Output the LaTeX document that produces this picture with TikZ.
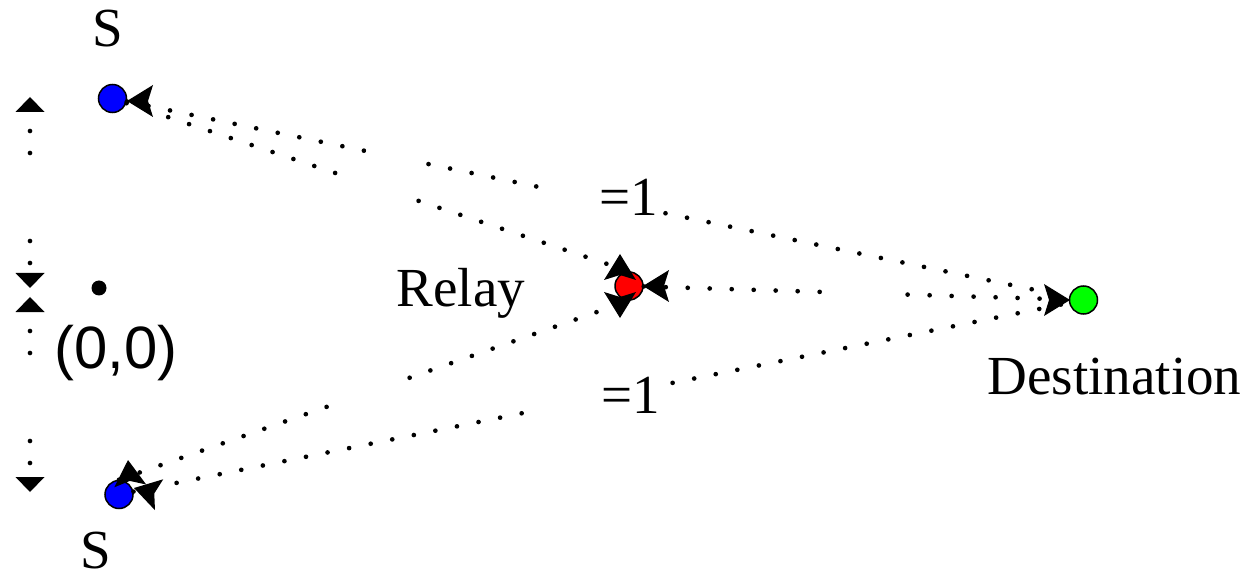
\documentclass[tikz,border=0pt]{standalone}
\usepackage{fontspec}
\setmainfont{Liberation Serif}
\newfontfamily\arialfont{Liberation Sans}
\tikzset{
  ahead/.pic={\fill (0,0) -- (-26,16) -- (-21,0) -- (-26,-16) -- cycle;},
  dimtip/.pic={\fill (0,0) -- (-15,14.5) -- (-15,-14.5) -- cycle;},
}
\begin{document}
\begin{tikzpicture}[x=0.3mm,y=-0.3mm,
  station/.style={circle,draw=black,line width=0.45mm,minimum size=8.4mm,inner sep=0pt},
  lbl/.style={font=\fontsize{47}{50}\selectfont,inner sep=0pt,anchor=base},
  link/.style={line width=1.4mm,line cap=round,dash pattern=on 0pt off 6.6mm},
  gapbox/.style={fill=white,inner sep=0pt,minimum height=3mm,sloped},
]
\useasboundingbox (0,0) rectangle (1245,578);

% stations
\node[station,fill=blue] (stop) at (112.5,98.5) {};
\node[station,fill=blue] (sbot) at (119,494.5) {};
\node[station,fill=red] (relay) at (629,286) {};
\node[station,fill=green] (dest) at (1083.5,300) {};
\node[circle,fill=black,minimum size=4.5mm,inner sep=0pt] (origin) at (99,288) {};

% connectors
\draw[link] (stop) -- (dest)
  node[gapbox,pos=0.280,minimum width=15mm] (g1) {}
  node[gapbox,pos=0.501,minimum width=36mm] (g2) {};
\draw[link] (stop) -- (relay.north)
  node[gapbox,pos=0.486,minimum width=20.7mm] (g3) {};
\draw[link] (relay) -- (dest)
  node[gapbox,pos=0.512,minimum width=21.9mm] (g4) {};
\draw[link] (sbot.north) -- (relay.south)
  node[gapbox,pos=0.482,minimum width=22.8mm] (g5) {};
\draw[link] (sbot) -- (dest)
  node[gapbox,pos=0.4976,minimum width=36mm] (g6) {};

% dimension on the left
\coordinate (dA) at (30,131);
\coordinate (dB) at (30,264);
\coordinate (dC) at (30,331);
\coordinate (dD) at (30,465);
\draw[link] (dA) -- (dB) node[gapbox,pos=0.504,minimum width=22.8mm] (g7) {};
\draw[link] (dC) -- (dD) node[gapbox,pos=0.504,minimum width=23.1mm] (g8) {};
\pic[rotate=90] at (30,97) {dimtip};
\pic[rotate=-90] at (30,288) {dimtip};
\pic[rotate=90] at (30,297) {dimtip};
\pic[rotate=-90] at (30,492) {dimtip};

% labels
\node[lbl] (stoplbl) at (108,47) {S};
\node[lbl] (sbotlbl) at (96,568) {S};
\node[lbl] (relaylbl) at (461,307) {Relay};
\node[lbl] (destlbl) at (1114.5,394) {Destination};
\node[lbl,font=\arialfont\fontsize{51}{54}\selectfont] (originlbl) at (116,368) {(0,0)};
\node[lbl] (eq1) at (628.5,216) {=1};
\node[lbl] (eq2) at (631,413) {=1};

% arrowheads
\pic[rotate=180] at (127,101) {ahead};
\pic[rotate=95] at (128,460) {ahead};
\pic[rotate=165] at (134,488) {ahead};
\pic[rotate=90] at (620,254) {ahead};
\pic[rotate=-90] at (620,318) {ahead};
\pic[rotate=180] at (643,286) {ahead};
\pic[rotate=0] at (1070,300) {ahead};
\end{tikzpicture}
\end{document}
